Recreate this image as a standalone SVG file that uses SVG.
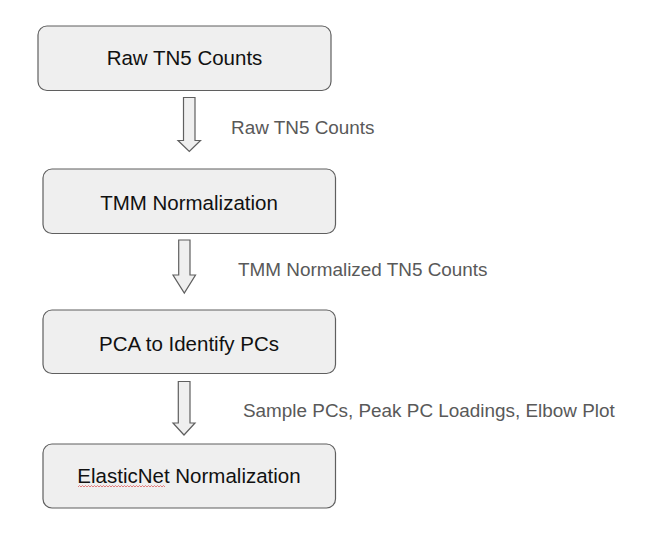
<svg xmlns="http://www.w3.org/2000/svg" width="657" height="542" viewBox="0 0 657 542">
<style>
.box{fill:#efefef;stroke:#5f5f5f;stroke-width:1.2}
.arr{fill:#efefef;stroke:#5f5f5f;stroke-width:1.2;stroke-linejoin:miter}
.nt{font-family:"Liberation Sans",Arial,sans-serif;font-size:20.5px;fill:#111;text-anchor:middle}
.lb{font-family:"Liberation Sans",Arial,sans-serif;font-size:18.9px;fill:#595959}
</style>
<rect width="657" height="542" fill="#fff"/>
<g id="connectors">
<g id="arrow1"><path class="arr" d="M183.5,97.5 H195 V140.5 H200.5 L189.3,151.5 L178,140.5 H183.5 Z"/><text class="lb" x="231" y="134">Raw TN5 Counts</text></g>
<g id="arrow2"><path class="arr" d="M178.7,240 H190 V275 H195.5 L184.3,293 L173,275 H178.7 Z"/><text class="lb" x="238" y="276">TMM Normalized TN5 Counts</text></g>
<g id="arrow3"><path class="arr" d="M178.3,381.5 H190 V423 H195 L184,435 L173,423 H178.3 Z"/><text class="lb" x="243" y="417">Sample PCs, Peak PC Loadings, Elbow Plot</text></g>
</g>
<g id="node1"><rect class="box" x="38" y="26" width="293" height="64.5" rx="9"/><text class="nt" x="184.5" y="65">Raw TN5 Counts</text></g>
<g id="node2"><rect class="box" x="43" y="169" width="292.5" height="64.5" rx="9"/><text class="nt" x="189" y="209.5">TMM Normalization</text></g>
<g id="node3"><rect class="box" x="43" y="310" width="292.5" height="63.5" rx="9"/><text class="nt" x="189" y="350.5">PCA to Identify PCs</text></g>
<g id="node4"><rect class="box" x="43" y="444" width="292.5" height="64" rx="9"/><text class="nt" x="189" y="483">ElasticNet Normalization</text>
<path d="M78,487 l1.5,-1.5 1.5,1.5 1.5,-1.5 1.5,1.5 1.5,-1.5 1.5,1.5 1.5,-1.5 1.5,1.5 1.5,-1.5 1.5,1.5 1.5,-1.5 1.5,1.5 1.5,-1.5 1.5,1.5 1.5,-1.5 1.5,1.5 1.5,-1.5 1.5,1.5 1.5,-1.5 1.5,1.5 1.5,-1.5 1.5,1.5 1.5,-1.5 1.5,1.5 1.5,-1.5 1.5,1.5 1.5,-1.5 1.5,1.5 1.5,-1.5 1.5,1.5 1.5,-1.5 1.5,1.5 1.5,-1.5 1.5,1.5 1.5,-1.5 1.5,1.5 1.5,-1.5 1.5,1.5 1.5,-1.5 1.5,1.5 1.5,-1.5 1.5,1.5 1.5,-1.5 1.5,1.5 1.5,-1.5 1.5,1.5 1.5,-1.5 1.5,1.5 1.5,-1.5 1.5,1.5 1.5,-1.5 1.5,1.5 1.5,-1.5 1.5,1.5 1.5,-1.5 1.5,1.5 1.5,-1.5 1.5,1.5" fill="none" stroke="#e06060" stroke-width="0.8"/></g>
</svg>
